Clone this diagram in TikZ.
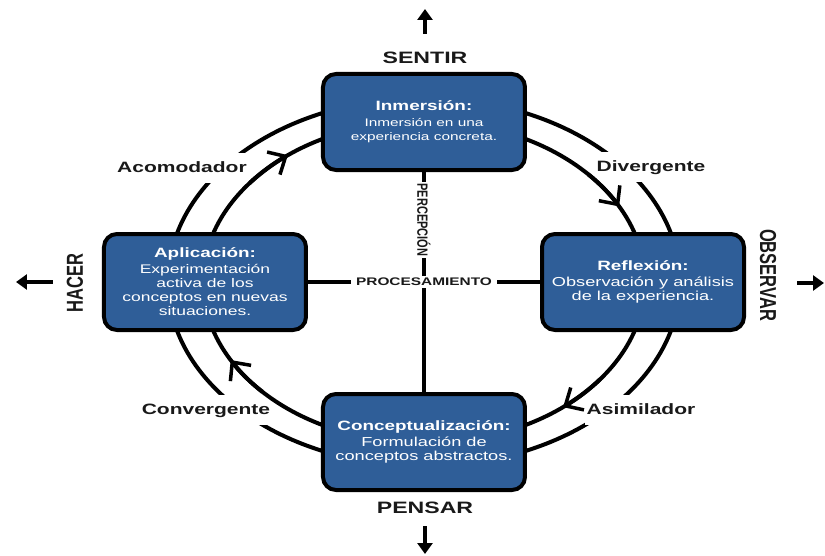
\documentclass[tikz,border=0pt]{standalone}
\usepackage{fontspec}
\newfontfamily\widesans[FakeStretch=1.4]{Liberation Sans}
\newfontfamily\narrowsans{Liberation Sans}
\usetikzlibrary{arrows.meta}
\definecolor{stageblue}{RGB}{47,94,152}
\begin{document}
\begin{tikzpicture}[x = 1pt, y = 1pt,
  stage/.style = {draw = black, fill = stageblue, line width = 4pt, rounded corners = 13pt, minimum width = 202pt, minimum height = 96pt, align = center, text = white, inner sep = 2pt, font = \widesans\fontsize{#1}{14}\selectfont},
  ring/.style = {line width = 4pt},
  flowtip/.style = {line width = 4pt, -{Straight Barb[length = 14pt, width = 26pt, line width = 3.5pt]}},
  cyclabel/.style = {fill = white, inner xsep = 2pt, inner ysep = 8pt, text height = 11pt, text depth = 3pt, text = black!90, font = \widesans\bfseries\fontsize{15}{15}\selectfont},
  crossline/.style = {line width = 4.5pt},
  crosslabel/.style = {fill = white, inner xsep = 5pt, inner ysep = 2pt, text = black!90, font = \widesans\bfseries\fontsize{11}{11}\selectfont},
  vcrosslabel/.style = {fill = white, inner xsep = 2pt, inner ysep = 1pt, text = black!90, font = \narrowsans\bfseries\fontsize{11}{11}\selectfont},
  dimlabel/.style = {text = black!90, font = \widesans\bfseries\fontsize{16.5}{16.5}\selectfont},
  vdimlabel/.style = {text = black!90, font = \narrowsans\bfseries\fontsize{16.5}{16.5}\selectfont},
  dirarrow/.style = {line width = 4.5pt, -{Triangle[length = 11pt, width = 15pt]}}]
\pgfmathsetmacro\innera{221}
\pgfmathsetmacro\innerb{161}
\pgfmathsetmacro\outera{256}
\pgfmathsetmacro\outerb{184}
\useasboundingbox (-424,-273) rectangle (401,282);
\coordinate (ctr) at (0,0);
\draw[ring] (ctr) ellipse [x radius = \outera, y radius = \outerb];
\node[cyclabel] (acom) at (-242,114) {Acomodador};
\node[cyclabel] (diver) at (227,115) {Divergente};
\node[cyclabel] (conv) at (-218,-128) {Convergente};
\node[cyclabel] (asim) at (217,-128) {Asimilador};
\draw[ring] (ctr) ellipse [x radius = \innera, y radius = \innerb];
\foreach \a in {142,42,-37,223}
  \draw[flowtip] ([shift = {(\a:{\innera} and {\innerb})}]ctr) arc [start angle = \a, end angle = \a-14, x radius = \innera, y radius = \innerb];
\node[stage = 11] (inm) at (0,160) {{\bfseries\fontsize{13.5}{16}\selectfont Inmersión:}\\[2pt] Inmersión en una\\ experiencia concreta.};
\node[stage = 12.5] (apl) at (-219,0) {{\bfseries\fontsize{13.5}{16}\selectfont Aplicación:}\\[2pt] Experimentación\\ activa de los\\ conceptos en nuevas\\ situaciones.};
\node[stage = 13] (ref) at (219,0) {{\bfseries\fontsize{13.5}{16}\selectfont Reflexión:}\\[2pt] Observación y análisis\\ de la experiencia.};
\node[stage = 13] (con) at (0,-160) {{\bfseries\fontsize{13.5}{16}\selectfont Conceptualización:}\\[2pt] Formulación de\\ conceptos abstractos.};
\draw[crossline] (inm) -- (con);
\draw[crossline] (apl) -- (ref);
\node[vcrosslabel, rotate = -90] (perc) at (0,62) {\scalebox{1}[1.35]{PERCEPCIÓN}};
\node[crosslabel] (proc) at (0,0) {PROCESAMIENTO};
\node[dimlabel] (sentir) at (1,224) {SENTIR};
\node[dimlabel] (pensar) at (1,-226) {PENSAR};
\node[vdimlabel, rotate = 90] (hacer) at (-349,-1) {\scalebox{1}[1.4]{HACER}};
\node[vdimlabel, rotate = -90] (observar) at (344,7) {\scalebox{1}[1.4]{OBSERVAR}};
\coordinate (sentirtail) at (1,248);
\coordinate (sentirtip) at (1,273);
\coordinate (pensartail) at (1,-244);
\coordinate (pensartip) at (1,-272);
\coordinate (hacertail) at (-371,0);
\coordinate (hacertip) at (-408,0);
\coordinate (observartail) at (373,-1);
\coordinate (observartip) at (400,-1);
\draw[dirarrow] (sentirtail) -- (sentirtip);
\draw[dirarrow] (pensartail) -- (pensartip);
\draw[dirarrow] (hacertail) -- (hacertip);
\draw[dirarrow] (observartail) -- (observartip);
\end{tikzpicture}
\end{document}
